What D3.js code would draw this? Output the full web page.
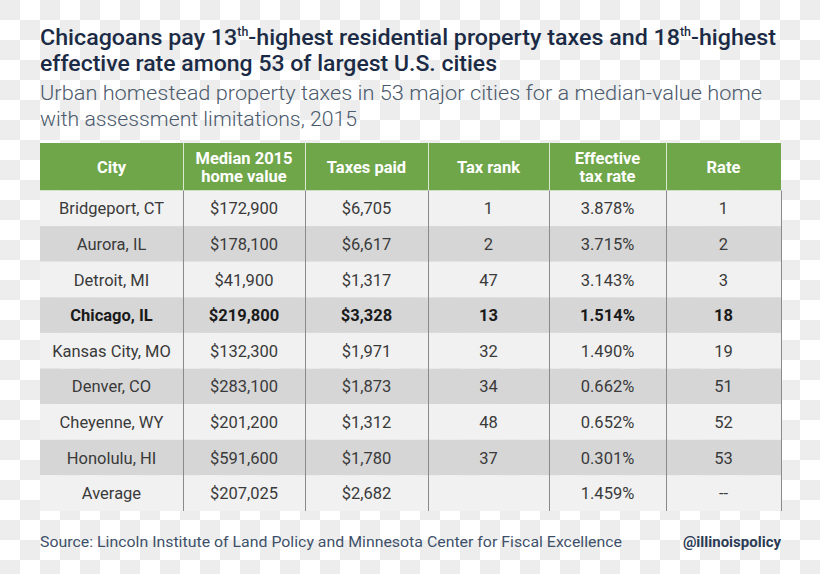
<!DOCTYPE html>
<html><head><meta charset="utf-8">
<script src="https://cdn.jsdelivr.net/npm/d3@7"></script>
<style>html,body{margin:0;padding:0;background:#fff}svg{display:block}</style>
</head><body>
<svg id="chart" width="820" height="574"></svg>
<script>
// ---- data ----
const headers = [["City"], ["Median 2015", "home value"], ["Taxes paid"], ["Tax rank"], ["Effective", "tax rate"], ["Rate"]];
const cities = ["Bridgeport, CT","Aurora, IL","Detroit, MI","Chicago, IL","Kansas City, MO","Denver, CO","Cheyenne, WY","Honolulu, HI","Average"];
const homeValues = [172900,178100,41900,219800,132300,283100,201200,591600,207025];
const taxesPaid = [6705,6617,1317,3328,1971,1873,1312,1780,2682];
const taxRank = [1,2,47,13,32,34,48,37,null];
const effectiveRate = [3.878,3.715,3.143,1.514,1.490,0.662,0.652,0.301,1.459];
const rateRank = [1,2,3,18,19,51,52,53,null];
const highlightCity = "Chicago, IL";

const W = 820, H = 574;
const svg = d3.select("#chart");

// checkerboard background
const cell = 20;
const bg = [];
d3.range(0, Math.ceil(H / cell)).forEach(r => d3.range(0, Math.ceil(W / cell)).forEach(c => { if ((r + c) % 2 === 0) bg.push([c, r]); }));
svg.append("g").selectAll("rect").data(bg).join("rect")
  .attr("x", d => d[0] * cell).attr("y", d => d[1] * cell)
  .attr("width", cell).attr("height", cell).attr("fill", "#ededed");

const FONT = "Roboto, 'Liberation Sans', Arial, sans-serif";

// title
const title = svg.append("g").attr("font-family", FONT).attr("fill", "#1c2b45").attr("font-weight", 500);
const t1 = title.append("text").attr("x", 40).attr("y", 45).attr("font-size", 22.5)
  .attr("textLength", 736).attr("lengthAdjust", "spacingAndGlyphs");
t1.append("tspan").text("Chicagoans pay 13");
t1.append("tspan").text("th").attr("font-size", 12).attr("dy", -9);
t1.append("tspan").text("-highest residential property taxes and 18").attr("dy", 9);
t1.append("tspan").text("th").attr("font-size", 12).attr("dy", -9);
t1.append("tspan").text("-highest").attr("dy", 9);
title.append("text").attr("x", 40).attr("y", 71).attr("font-size", 22.5)
  .attr("textLength", 457).attr("lengthAdjust", "spacingAndGlyphs")
  .text("effective rate among 53 of largest U.S. cities");

const sub = svg.append("g").attr("font-family", FONT).attr("fill", "#4b5a6c").attr("font-weight", 300).attr("font-size", 21);
sub.append("text").attr("x", 40).attr("y", 100).attr("textLength", 722).attr("lengthAdjust", "spacingAndGlyphs")
  .text("Urban homestead property taxes in 53 major cities for a median-value home");
sub.append("text").attr("x", 40).attr("y", 126).attr("textLength", 317).attr("lengthAdjust", "spacingAndGlyphs")
  .text("with assessment limitations, 2015");

// table layout
const colEdges = [40, 183, 305, 428, 549, 666, 781];
const headTop = 143, headBottom = 190.5, tableBottom = 511;
const y = d3.scaleBand().domain(d3.range(cities.length)).range([headBottom, tableBottom]);

const fmtMoney = d3.format("$,");
const fmtPct = v => d3.format(".3f")(v) + "%";
const rows = cities.map((c, i) => ({
  i, bold: c === highlightCity,
  cells: [c, fmtMoney(homeValues[i]), fmtMoney(taxesPaid[i]),
          taxRank[i] == null ? "" : String(taxRank[i]),
          fmtPct(effectiveRate[i]),
          rateRank[i] == null ? "--" : String(rateRank[i])]
}));

const table = svg.append("g").attr("font-family", FONT);

// header
table.append("rect").attr("x", colEdges[0]).attr("y", headTop)
  .attr("width", colEdges[6] - colEdges[0]).attr("height", headBottom - headTop).attr("fill", "#6fa64a");

// rows backgrounds
table.selectAll("rect.row").data(rows).join("rect").attr("class", "row")
  .attr("x", colEdges[0]).attr("y", d => y(d.i))
  .attr("width", colEdges[6] - colEdges[0]).attr("height", y.bandwidth())
  .attr("fill", d => d.i % 2 === 0 ? "#f1f1f1" : "#d6d6d7");

// header dividers
table.selectAll("line.hdiv").data(colEdges.slice(1, 6)).join("line").attr("class", "hdiv")
  .attr("x1", d => d + 0.5).attr("x2", d => d + 0.5).attr("y1", headTop).attr("y2", headBottom)
  .attr("stroke", "#dbe9d0").attr("stroke-width", 1);
// body dividers
table.selectAll("line.bdiv").data(colEdges.slice(1)).join("line").attr("class", "bdiv")
  .attr("x1", d => d + 0.5).attr("x2", d => d + 0.5).attr("y1", headBottom).attr("y2", tableBottom)
  .attr("stroke", "#8a8a8a").attr("stroke-width", 1);

// header text
headers.forEach((lines, j) => {
  const cx = (colEdges[j] + colEdges[j + 1]) / 2;
  const tx = table.append("text").attr("x", cx).attr("text-anchor", "middle")
    .attr("fill", "#ffffff").attr("font-weight", 700).attr("font-size", 16.5);
  if (lines.length === 1) {
    tx.attr("y", 173).text(lines[0]);
  } else {
    lines.forEach((l, k) => tx.append("tspan").attr("x", cx).attr("y", 164 + k * 18).text(l));
  }
});

// body text
rows.forEach(r => {
  r.cells.forEach((v, j) => {
    const cx = (colEdges[j] + colEdges[j + 1]) / 2;
    table.append("text").attr("x", cx).attr("y", y(r.i) + y.bandwidth() / 2 + 6)
      .attr("text-anchor", "middle").attr("font-size", 16.5)
      .attr("font-weight", r.bold ? 700 : 400)
      .attr("fill", r.bold ? "#1a1a1a" : "#3a3a3a")
      .text(v);
  });
});

// footer
svg.append("text").attr("x", 40).attr("y", 547).attr("font-family", FONT).attr("font-size", 15)
  .attr("font-weight", 400).attr("fill", "#3e5069")
  .attr("textLength", 582).attr("lengthAdjust", "spacingAndGlyphs")
  .text("Source: Lincoln Institute of Land Policy and Minnesota Center for Fiscal Excellence");
svg.append("text").attr("x", 781).attr("y", 547).attr("font-family", FONT).attr("font-size", 15)
  .attr("font-weight", 700).attr("fill", "#2b3b55").attr("text-anchor", "end")
  .text("@illinoispolicy");
</script>
</body></html>
